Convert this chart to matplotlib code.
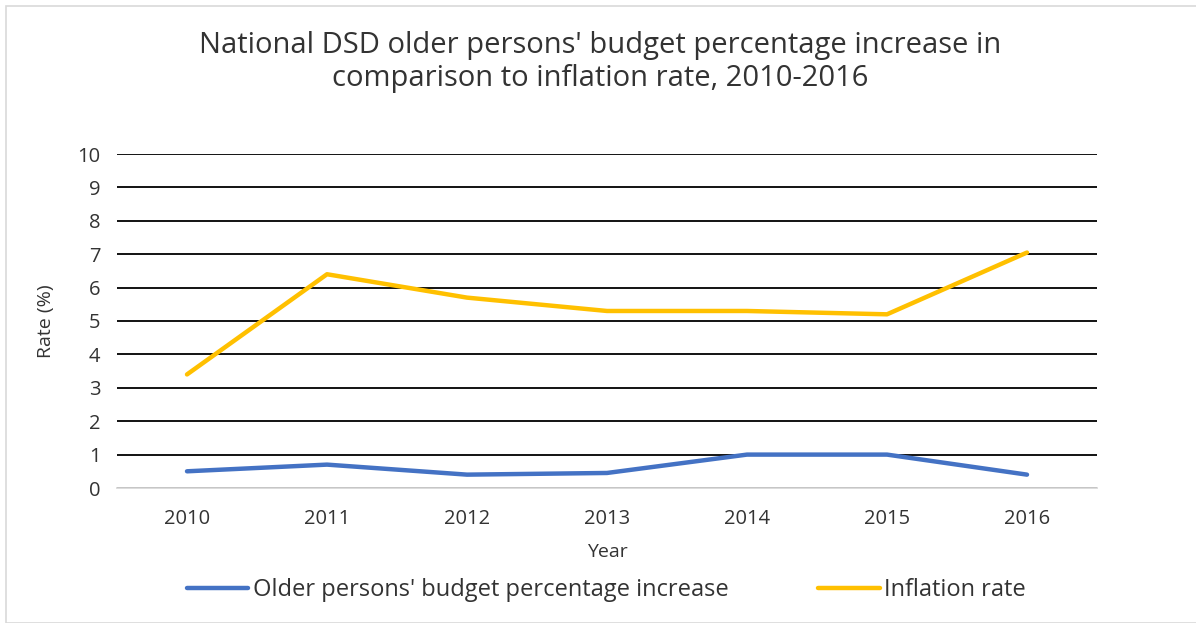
import numpy as np
import matplotlib
matplotlib.use("Agg")
import matplotlib.pyplot as plt
from matplotlib.patches import Rectangle

# data
years = ["2010", "2011", "2012", "2013", "2014", "2015", "2016"]
budget_increase = [0.5, 0.7, 0.4, 0.45, 1.0, 1.0, 0.4]
inflation = [3.4, 6.4, 5.7, 5.3, 5.3, 5.2, 7.05]

blue = "#4472C4"
gold = "#FFC000"

plt.rcParams['font.family'] = ['Open Sans', 'DejaVu Sans']

fig = plt.figure(figsize=(11.96, 6.23), dpi=100)
ax = fig.add_axes([117 / 1196, 1 - 488 / 623, (1097 - 117) / 1196, (488 - 154) / 623])

x = np.arange(len(years))
ax.plot(x, budget_increase, color=blue, lw=3.2, solid_capstyle='round',
        label="Older persons' budget percentage increase")
ax.plot(x, inflation, color=gold, lw=3.2, solid_capstyle='round',
        label="Inflation rate")

ax.set_xlim(-0.5, len(years) - 0.5)
ax.set_ylim(0, 10)
ax.set_yticks(range(0, 11))
ax.set_xticks(x)
ax.set_xticklabels(years)
ax.grid(axis='y', color='black', lw=1.3)
ax.set_axisbelow(True)
for s in ['top', 'right', 'left']:
    ax.spines[s].set_visible(False)
ax.spines['bottom'].set_color('#d9d9d9')
ax.spines['bottom'].set_linewidth(1.3)
ax.tick_params(length=0, labelsize=14.5, colors='#333333')
ax.tick_params(axis='x', pad=15)
ax.tick_params(axis='y', pad=12)

ax.set_ylabel("Rate (%)", fontsize=14, color='#333333', labelpad=16)
ax.set_xlabel("Year", fontsize=14, color='#333333', labelpad=10)

fig.text(0.502, 1 - 62 / 623,
         "National DSD older persons' budget percentage increase in\ncomparison to inflation rate, 2010-2016",
         ha='center', va='center', fontsize=21, color='#333333', linespacing=1.15)

fig.legend(loc='center', bbox_to_anchor=(0.507, 1 - 590 / 623), ncol=2, frameon=False,
           fontsize=17, handlelength=2.6, columnspacing=3.8, handletextpad=0.2,
           labelcolor='#333333')

# light chart border
fig.patches.append(Rectangle((6 / 1196, 0), 1.2, 1 - 6 / 623, transform=fig.transFigure,
                             fill=False, edgecolor='#d9d9d9', lw=1.2))

fig.savefig("out.png", dpi=100)
